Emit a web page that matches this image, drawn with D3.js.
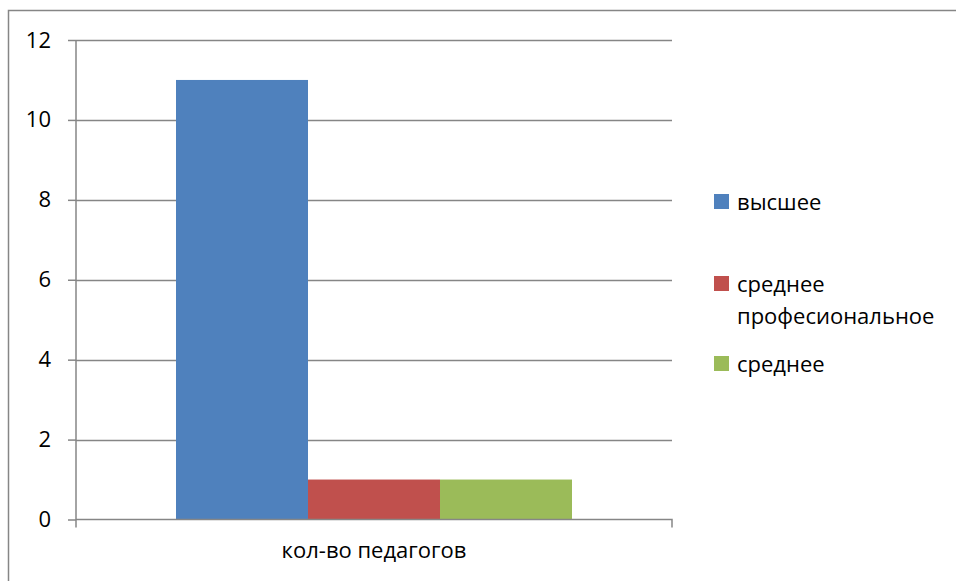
<!DOCTYPE html>
<html>
<head>
<meta charset="utf-8">
<script src="https://cdn.jsdelivr.net/npm/d3@7"></script>
<style>
  body { margin: 0; background: #fff; }
  text { font-family: "Open Sans", "Liberation Sans", Arial, sans-serif; fill: #000; }
</style>
</head>
<body>
<div id="chart"></div>
<script>
const categories = ["кол-во педагогов"];
const seriesNames = ["высшее", "среднее профессиональное", "среднее"];
const seriesValues = [11, 1, 1];
const seriesColors = ["#4f81bd", "#c0504d", "#9bbb59"];
const yTicks = [0, 2, 4, 6, 8, 10, 12];

const width = 956, height = 581;
const plot = { left: 76, right: 672, top: 40, bottom: 519.5 };
const fontSize = 22;

const svg = d3.select("#chart").append("svg")
    .attr("width", width)
    .attr("height", height);

// outer chart border (clipped at right / bottom like the original)
svg.append("rect")
    .attr("x", 8.5).attr("y", 10.5)
    .attr("width", 960).attr("height", 600)
    .attr("fill", "none")
    .attr("stroke", "#868686")
    .attr("stroke-width", 1.5);

const y = d3.scaleLinear().domain([0, 12]).range([plot.bottom, plot.top]);
const x0 = d3.scaleBand().domain(categories).range([plot.left, plot.right]).paddingInner(0).paddingOuter(0);
const x1 = d3.scaleBand().domain(seriesNames).range([100, x0.bandwidth() - 100]).padding(0);

// gridlines
svg.append("g")
    .selectAll("line")
    .data(yTicks.filter(d => d > 0))
    .join("line")
    .attr("x1", plot.left).attr("x2", plot.right)
    .attr("y1", d => Math.round(y(d)) + 0.5).attr("y2", d => Math.round(y(d)) + 0.5)
    .attr("stroke", "#868686")
    .attr("stroke-width", 1.5);

// bars
const group = svg.append("g")
    .selectAll("g")
    .data(categories)
    .join("g")
    .attr("transform", d => `translate(${x0(d)},0)`);

group.selectAll("rect")
    .data(seriesNames.map((s, i) => ({ name: s, value: seriesValues[i], color: seriesColors[i] })))
    .join("rect")
    .attr("x", d => x1(d.name))
    .attr("width", x1.bandwidth())
    .attr("y", d => y(d.value))
    .attr("height", d => y(0) - y(d.value))
    .attr("fill", d => d.color);

// y axis
const yAxis = svg.append("g")
    .attr("transform", `translate(${plot.left},0)`)
    .call(d3.axisLeft(y).tickValues(yTicks).tickSize(8).tickPadding(17));
yAxis.attr("font-size", fontSize).attr("font-family", null);
yAxis.selectAll("line, path").attr("stroke", "#868686").attr("stroke-width", 1.5);
yAxis.select(".domain").attr("d", `M0,${plot.top}V${plot.bottom + 8}`);
yAxis.selectAll("text").attr("fill", "#000");

// x axis
const xAxis = svg.append("g")
    .attr("transform", `translate(0,${plot.bottom})`)
    .call(d3.axisBottom(x0).tickSize(0).tickPadding(23));
xAxis.attr("font-size", fontSize).attr("font-family", null);
xAxis.select(".domain").attr("d", `M${plot.left},0H${plot.right}V8`).attr("stroke", "#868686").attr("stroke-width", 1.5).attr("fill", "none");
xAxis.selectAll("text").attr("fill", "#000");

// legend
const legendRows = [
    { lines: ["высшее"], y: 201 },
    { lines: ["среднее", "професиональное"], y: 283 },
    { lines: ["среднее"], y: 363 }
];
const legend = svg.append("g").attr("font-size", fontSize);
legendRows.forEach((r, i) => {
    legend.append("rect")
        .attr("x", 714).attr("y", r.y - 7)
        .attr("width", 15).attr("height", 15)
        .attr("fill", seriesColors[i]);
    const t = legend.append("text")
        .attr("x", 737).attr("y", r.y + 9);
    r.lines.forEach((l, j) => {
        t.append("tspan").attr("x", 737).attr("dy", j === 0 ? 0 : 32).text(l);
    });
});
</script>
</body>
</html>
